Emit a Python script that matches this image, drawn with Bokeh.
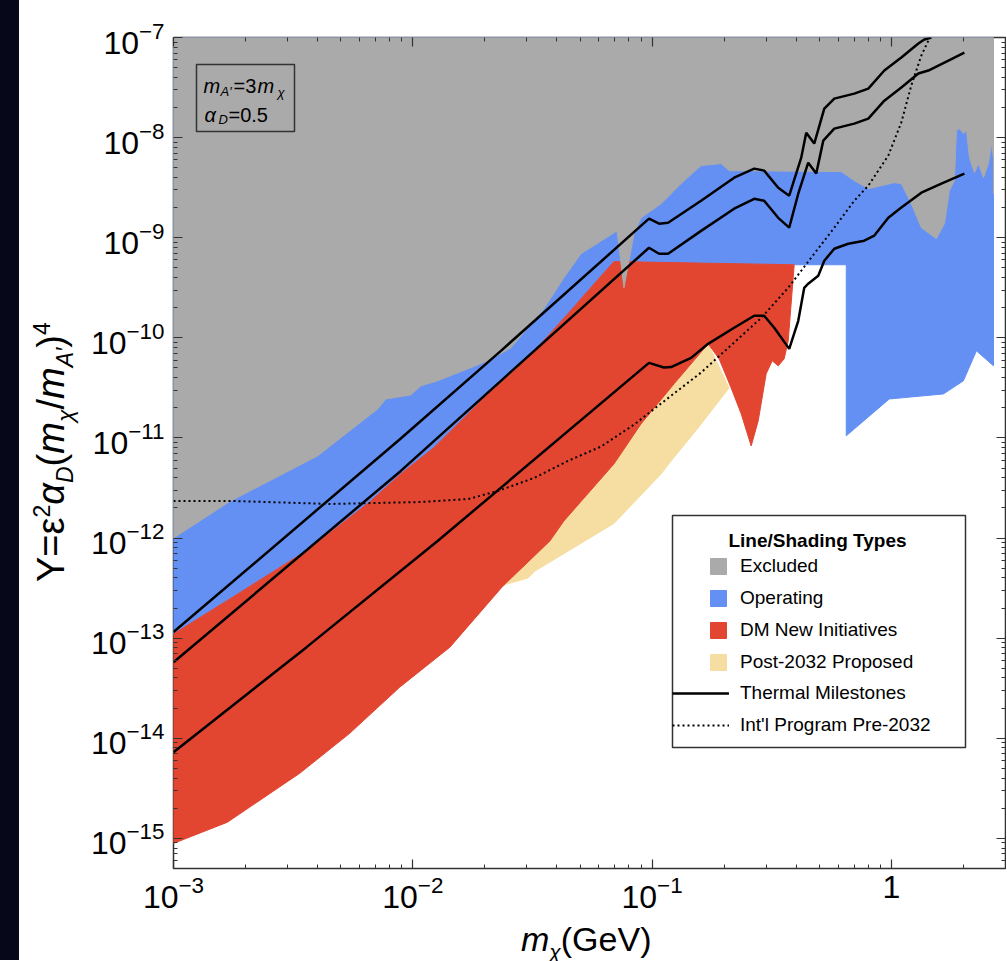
from bokeh.plotting import figure
from bokeh.models import (LogAxis, FixedTicker, LogTickFormatter, CustomJSTickFormatter, Legend,
                          LegendItem, Label, BoxAnnotation, Div)
from bokeh.layouts import row, column
from bokeh.embed import file_html
from bokeh.resources import INLINE

# ---------------- data ----------------
X_MIN, X_MAX = 1e-3, 3.0
Y_MIN, Y_MAX = 5e-16, 1e-7

# lower edge of the Excluded (gray) region
excluded_x = [0.00100, 0.00173, 0.00400, 0.00714, 0.00771, 0.00981, 0.0108, 0.0127, 0.0170,
              0.0206, 0.0257, 0.0353, 0.0428, 0.0505, 0.0693, 0.0714, 0.0763, 0.0841, 0.0899,
              0.1020, 0.1091, 0.1322, 0.1603, 0.1945, 0.2099, 0.6176, 0.6998, 0.8013, 1.029,
              1.101, 1.212, 1.335, 1.542, 1.667, 1.748, 1.835, 1.871, 1.925, 2.001, 2.060,
              2.121, 2.225, 2.312, 2.427, 2.547, 2.621, 2.672, 2.672]
excluded_y = [1.00e-12, 2.34e-12, 6.61e-12, 1.95e-11, 2.45e-11, 2.69e-11, 3.31e-11, 3.72e-11,
              4.90e-11, 5.89e-11, 7.94e-11, 1.95e-10, 3.98e-10, 6.92e-10, 1.12e-9, 1.17e-9,
              3.16e-10, 1.10e-9, 1.58e-9, 1.95e-9, 2.19e-9, 3.47e-9, 5.25e-9, 5.50e-9, 4.68e-9,
              4.58e-9, 3.72e-9, 3.09e-9, 3.55e-9, 3.47e-9, 2.19e-9, 1.26e-9, 9.77e-10, 1.38e-9,
              2.95e-9, 3.72e-9, 1.18e-8, 1.23e-8, 1.10e-8, 1.18e-8, 6.31e-9, 4.47e-9, 5.50e-9,
              3.98e-9, 5.50e-9, 8.71e-9, 6.31e-9, 2.75e-9]

# upper edge of the DM New Initiatives (red) region, left to right
dmni_top_x = [0.00100, 0.00185, 0.00374, 0.00667, 0.00891, 0.0122, 0.0159, 0.0206, 0.0257,
              0.0343, 0.0445, 0.0540, 0.0693, 0.3927]
dmni_top_y = [1.10e-13, 2.75e-13, 7.94e-13, 2.34e-12, 4.37e-12, 7.94e-12, 1.48e-11, 2.75e-11,
              4.37e-11, 8.71e-11, 1.74e-10, 2.95e-10, 5.78e-10, 5.37e-10]
# rest of the red outline: right edge with the dip, then the lower edge back to 1 MeV
dmni_rest_x = [0.3707, 0.3566, 0.3367, 0.3177, 0.2999, 0.2777, 0.2596, 0.2358, 0.2141, 0.1906,
               0.1715, 0.1236, 0.0899, 0.0693, 0.0428, 0.0374, 0.0238, 0.0143, 0.00882,
               0.00545, 0.00337, 0.00168, 0.00100]
dmni_rest_y = [9.33e-11, 6.17e-11, 5.25e-11, 5.89e-11, 4.37e-11, 1.48e-11, 8.32e-12, 1.74e-11,
               3.16e-11, 6.17e-11, 8.71e-11, 3.47e-11, 1.38e-11, 5.50e-12, 1.48e-12, 9.33e-13,
               3.31e-13, 8.13e-14, 3.24e-14, 1.12e-14, 4.47e-15, 1.45e-15, 8.91e-16]

# Operating (blue) lower edge at high mass
operating_low_x = [0.6481, 0.6481, 0.9808, 1.651, 2.001, 2.268, 2.672]
operating_low_y = [5.37e-10, 1.05e-11, 2.45e-11, 2.75e-11, 3.72e-11, 7.41e-11, 5.25e-11]

# Post-2032 Proposed (yellow)
post_x = [0.0238, 0.0374, 0.0428, 0.0693, 0.0899, 0.1236, 0.1715, 0.2099, 0.1558, 0.1201,
          0.1091, 0.0693, 0.0324, 0.0303, 0.0247]
post_y = [3.31e-13, 9.33e-13, 1.48e-12, 5.50e-12, 1.38e-11, 3.47e-11, 8.71e-11, 3.16e-11,
          1.26e-11, 5.89e-12, 4.37e-12, 1.40e-12, 4.68e-13, 3.98e-13, 3.47e-13]

# Thermal milestones (three curves)
th1_x = [0.00100, 0.00891, 0.02335, 0.0971, 0.1070, 0.1167, 0.1603, 0.2203, 0.2672, 0.2941,
         0.3367, 0.3743, 0.4202, 0.4409, 0.4762, 0.5245, 0.5775, 0.6998, 0.8013, 0.9348,
         1.101, 1.297, 1.374, 1.471]
th1_y = [1.15e-13, 9.86e-12, 7.41e-11, 1.55e-9, 1.38e-9, 1.41e-9, 2.34e-9, 3.98e-9, 4.90e-9,
         4.68e-9, 3.16e-9, 2.63e-9, 6.31e-9, 1.12e-8, 8.71e-9, 1.95e-8, 2.45e-8, 2.75e-8,
         3.09e-8, 4.68e-8, 6.31e-8, 8.71e-8, 9.55e-8, 1.0e-7]
th2_x = [0.00100, 0.00891, 0.02335, 0.0971, 0.1070, 0.1167, 0.1603, 0.2203, 0.2672, 0.2941,
         0.3367, 0.3743, 0.4083, 0.4494, 0.4855, 0.5195, 0.5775, 0.6998, 0.8013, 0.9348,
         1.101, 1.297, 1.428, 1.732, 2.020]
th2_y = [5.75e-14, 4.68e-12, 3.72e-11, 7.94e-10, 6.92e-10, 6.92e-10, 1.17e-9, 1.95e-9, 2.45e-9,
         2.34e-9, 1.58e-9, 1.26e-9, 2.75e-9, 5.62e-9, 4.37e-9, 9.33e-9, 1.23e-8, 1.38e-8,
         1.55e-8, 2.34e-8, 3.16e-8, 4.37e-8, 4.68e-8, 5.89e-8, 7.08e-8]
th3_x = [0.00100, 0.00360, 0.0127, 0.0971, 0.1122, 0.1201, 0.1456, 0.1715, 0.2203, 0.2672,
         0.2941, 0.3240, 0.3743, 0.4083, 0.4325, 0.4494, 0.4950, 0.5245, 0.5775, 0.6607,
         0.7709, 0.8490, 0.9714, 1.101, 1.335, 1.619, 2.020]
th3_y = [7.24e-15, 8.13e-14, 9.33e-13, 5.62e-11, 5.05e-11, 5.10e-11, 6.31e-11, 8.71e-11,
         1.26e-10, 1.66e-10, 1.66e-10, 1.26e-10, 7.76e-11, 1.48e-10, 3.16e-10, 3.47e-10,
         4.17e-10, 5.89e-10, 7.76e-10, 8.71e-10, 9.33e-10, 1.05e-9, 1.58e-9, 2.0e-9, 2.82e-9,
         3.47e-9, 4.37e-9]

# Int'l Program Pre-2032 (dotted)
intl_x = [0.00100, 0.00182, 0.00454, 0.0108, 0.0170, 0.0227, 0.0321, 0.0445, 0.0612, 0.0841,
          0.1020, 0.1603, 0.2858, 0.3707, 0.4762, 0.5775, 0.6998, 0.8013, 0.9714, 1.101,
          1.212, 1.335, 1.442]
intl_y = [2.34e-12, 2.34e-12, 2.19e-12, 2.29e-12, 2.45e-12, 2.95e-12, 3.98e-12, 5.89e-12,
          8.20e-12, 1.36e-11, 1.95e-11, 4.50e-11, 1.58e-10, 3.16e-10, 6.92e-10, 1.26e-9,
          2.34e-9, 3.31e-9, 6.62e-9, 1.42e-8, 3.32e-8, 6.61e-8, 9.77e-8]

legend_labels = ["Excluded", "Operating", "DM New Initiatives", "Post-2032 Proposed",
                 "Thermal Milestones", "Int'l Program Pre-2032"]

# ---------------- styling ----------------
GRAY, BLUE, RED, YELLOW = "#aaaaaa", "#6490f4", "#e24631", "#f6dea2"
FRAME_C = "#333333"
FONT = "Liberation Sans"

LEFT_W = 80          # width of the y-title column
FIG_W, FIG_H = 1006 - LEFT_W, 925
FL, FT, FB = 173, 37, 868   # frame left / top / bottom in page pixels

p = figure(width=FIG_W, height=FIG_H, x_axis_type="log", y_axis_type="log",
           x_range=(X_MIN, X_MAX), y_range=(Y_MIN, Y_MAX),
           output_backend="svg", toolbar_location=None,
           min_border_left=FL - LEFT_W, min_border_right=1, min_border_top=FT,
           min_border_bottom=FIG_H - FB)
p.grid.visible = False
p.background_fill_color = "white"
p.border_fill_color = "white"
p.outline_line_color = FRAME_C
p.outline_line_width = 1.5

x_major = [1e-3, 1e-2, 1e-1, 1.0]
x_minor = [k * m for m in x_major for k in range(2, 10) if k * m <= X_MAX]
y_major = [10.0 ** e for e in range(-15, -6)]
y_minor = [k * 10.0 ** e for e in range(-16, -7) for k in range(2, 10)]


def style_axis(ax, standoff):
    ax.major_tick_in = 9
    ax.major_tick_out = 0
    ax.minor_tick_in = 4
    ax.minor_tick_out = 0
    ax.major_tick_line_color = FRAME_C
    ax.minor_tick_line_color = FRAME_C
    ax.major_tick_line_width = 1.2
    ax.minor_tick_line_width = 1.0
    ax.axis_line_color = None
    ax.major_label_text_font = FONT
    ax.major_label_text_color = "black"
    ax.major_label_text_font_size = "32px"
    ax.major_label_standoff = standoff


p.xaxis.ticker = FixedTicker(ticks=x_major, minor_ticks=x_minor)
p.xaxis.formatter = LogTickFormatter(min_exponent=1)
p.yaxis.ticker = FixedTicker(ticks=y_major, minor_ticks=y_minor)
p.yaxis.formatter = LogTickFormatter()
style_axis(p.xaxis[0], 7)
style_axis(p.yaxis[0], 9)

# mirrored tick marks on the top and right edges (no labels)
blank = CustomJSTickFormatter(code="return ''")
for ticks, minor, side in ((x_major, x_minor, "above"), (y_major, y_minor, "right")):
    ax = LogAxis(ticker=FixedTicker(ticks=ticks, minor_ticks=minor), formatter=blank)
    style_axis(ax, 0)
    ax.major_label_text_font_size = "1px"
    p.add_layout(ax, side)

# ---------------- shaded regions ----------------
blue_xs = [X_MIN] + dmni_top_x + operating_low_x + [operating_low_x[-1]]
blue_ys = [Y_MAX] + dmni_top_y + operating_low_y + [Y_MAX]
r_blue = p.patch(blue_xs, blue_ys, fill_color=BLUE, line_color=BLUE, line_width=1)

r_yellow = p.patch(post_x, post_y, fill_color=YELLOW, line_color=YELLOW, line_width=1)

red_xs = dmni_top_x + dmni_rest_x
red_ys = dmni_top_y + dmni_rest_y
r_red = p.patch(red_xs, red_ys, fill_color=RED, line_color=RED, line_width=1)

gray_xs = [X_MIN] + excluded_x + [excluded_x[-1]]
gray_ys = [Y_MAX] + excluded_y + [Y_MAX]
r_gray = p.patch(gray_xs, gray_ys, fill_color=GRAY, line_color=GRAY, line_width=1)

# ---------------- lines ----------------
r_th1 = p.line(th1_x, th1_y, line_color="black", line_width=2.5)
r_th2 = p.line(th2_x, th2_y, line_color="black", line_width=2.5)
r_th3 = p.line(th3_x, th3_y, line_color="black", line_width=2.5)
r_intl = p.line(intl_x, intl_y, line_color="black", line_width=2, line_dash="2 3")


# ---------------- in-frame text and boxes (page pixels -> screen units of the frame) ----------------
def txt(t, px, py, size, style="normal", align="left"):
    p.add_layout(Label(x=px - FL, y=FB - py, x_units="screen", y_units="screen", text=t,
                       text_font=FONT, text_font_size=f"{size}px", text_font_style=style,
                       text_align=align, text_baseline="middle", text_color="black"))


def box(l, r, t, b, fill=None):
    p.add_layout(BoxAnnotation(left=l - FL, right=r - FL, top=FB - t, bottom=FB - b,
                               left_units="screen", right_units="screen", top_units="screen",
                               bottom_units="screen", fill_color=fill if fill else "white",
                               fill_alpha=1 if fill else 0, line_color=FRAME_C,
                               line_alpha=1, line_width=1.5))


# parameter box in the upper left
box(196, 294, 64, 131)
txt("m", 203, 85, 20, "italic")
txt("A\u2032", 220, 91, 13, "italic")
txt("=3", 233, 85, 20)
txt("m", 257, 85, 20, "italic")
txt("\u03c7", 277, 92, 13, "italic")
txt("\u03b1", 204, 114, 20, "italic")
txt("D", 218, 119, 13, "italic")
txt("=0.5", 228, 114, 20)

# ---------------- legend ----------------
box(672, 965, 515, 747, fill="white")
txt("Line/Shading Types", 817, 540, 19, "bold", align="center")

leg_patches = Legend(items=[LegendItem(label=legend_labels[0], renderers=[r_gray]),
                            LegendItem(label=legend_labels[1], renderers=[r_blue]),
                            LegendItem(label=legend_labels[2], renderers=[r_red]),
                            LegendItem(label=legend_labels[3], renderers=[r_yellow])],
                     location=(708 - FL, FB - 673))
leg_lines = Legend(items=[LegendItem(label=legend_labels[4], renderers=[r_th1]),
                          LegendItem(label=legend_labels[5], renderers=[r_intl])],
                   location=(672 - FL, FB - 736))
for lg, gw, so in ((leg_patches, 20, 12), (leg_lines, 57, 11)):
    lg.glyph_width = gw
    lg.glyph_height = 20
    lg.label_height = 20
    lg.label_standoff = so
    lg.spacing = 10
    lg.padding = 0
    lg.margin = 0
    lg.border_line_alpha = 0
    lg.background_fill_alpha = 0
    lg.label_text_font = FONT
    lg.label_text_font_size = "19px"
    lg.label_text_color = "black"
    p.add_layout(lg)

# ---------------- axis titles (HTML text beside / below the figure) ----------------
SUB = "font-size:{}px;line-height:0"
y_title = (
    "<div style=\"position:relative;left:32px;top:582px;transform:rotate(-90deg);"
    "transform-origin:0 0;width:max-content;white-space:nowrap;font-family:'Liberation Sans';"
    "font-size:38px;line-height:1;color:#000\">"
    "Y=\u03b5<sup style='{s}'>2</sup><i>\u03b1</i><sub style='{s}'><i>D</i></sub>"
    "(<i>m</i><sub style='{s}'><i>\u03c7</i></sub>/<i>m</i><sub style='{s}'><i>A\u2032</i></sub>)"
    "<sup style='{s}'>4</sup></div>"
).format(s=SUB.format(23))
x_title = (
    "<div style=\"position:relative;left:{l}px;top:-3px;white-space:nowrap;"
    "font-family:'Liberation Sans';font-size:34px;line-height:1;color:#000\">"
    "<i>m</i><sub style='{s}'><i>\u03c7</i></sub>(GeV)</div>"
).format(l=521 - LEFT_W, s=SUB.format(21))

ydiv = Div(text=y_title, width=LEFT_W, height=960, margin=0,
           styles={"background": "linear-gradient(to right, #07071a 19px, #ffffff 19px)",
                   "overflow": "visible"})
xdiv = Div(text=x_title, width=FIG_W, height=960 - FIG_H, margin=0,
           styles={"overflow": "visible"})

layout = row(ydiv, column(p, xdiv, spacing=0), spacing=0)

open("out.html", "w").write(file_html(layout, INLINE))
